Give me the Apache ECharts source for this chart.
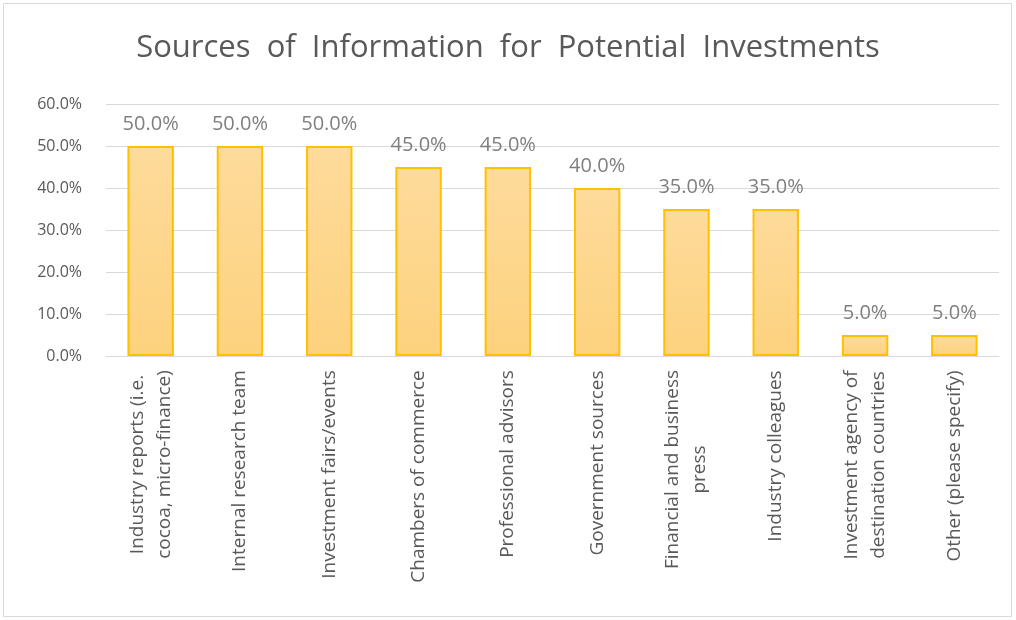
<!DOCTYPE html>
<html><head><meta charset="utf-8">
<script src="https://cdn.jsdelivr.net/npm/echarts@6/dist/echarts.min.js"></script>
<style>html,body{margin:0;padding:0;background:#fff}#c{width:1016px;height:620px}</style>
</head><body><div id="c"></div>
<script>
var categories = [
  "Industry reports (i.e.\ncocoa, micro-finance)",
  "Internal research team",
  "Investment fairs/events",
  "Chambers of commerce",
  "Professional advisors",
  "Government sources",
  "Financial and business\npress",
  "Industry colleagues",
  "Investment agency of\ndestination countries",
  "Other (please specify)"
];
var values = [50, 50, 50, 45, 45, 40, 35, 35, 5, 5];
var yTicks = [0, 10, 20, 30, 40, 50, 60];

var font = "'Open Sans', 'Noto Sans', sans-serif";
var labelSize = 19;
var ctx = document.createElement('canvas').getContext('2d');
ctx.font = labelSize + "px 'Open Sans'";
var rich = {};
categories.forEach(function (c, i) {
  var lines = c.split('\n');
  var w = Math.max.apply(null, lines.map(function (s) { return ctx.measureText(s).width; }));
  rich['r' + i] = { width: Math.ceil(w), align: 'center', fontFamily: font, fontSize: labelSize, color: '#595959', lineHeight: 27 };
});

var chart = echarts.init(document.getElementById('c'));
chart.setOption({
  backgroundColor: '#fff',
  animation: false,
  title: {
    text: 'Sources  of  Information  for  Potential  Investments',
    left: 'center', top: 28,
    textStyle: { fontFamily: font, fontSize: 31, fontWeight: 'normal', color: '#595959' }
  },
  graphic: [{ type: 'rect', shape: { x: 3.5, y: 3.5, width: 1008, height: 613 },
    style: { fill: 'none', stroke: '#d9d9d9', lineWidth: 1 }, silent: true }],
  grid: { left: 106, right: 17, top: 104, bottom: 264 },
  xAxis: {
    type: 'category', data: categories,
    axisLine: { show: true, lineStyle: { color: '#d9d9d9' } },
    axisTick: { show: false },
    axisLabel: {
      rotate: 90, interval: 0, margin: 14,
      fontFamily: font, fontSize: labelSize, color: '#595959', lineHeight: 27,
      formatter: function (v, i) {
        return v.split('\n').map(function (s) { return '{r' + i + '|' + s + '}'; }).join('\n');
      },
      rich: rich
    }
  },
  yAxis: {
    type: 'value', min: yTicks[0], max: yTicks[yTicks.length - 1], interval: 10,
    axisLine: { show: false }, axisTick: { show: false },
    splitLine: { lineStyle: { color: '#d9d9d9', width: 1 } },
    axisLabel: {
      margin: 24, fontFamily: font, fontSize: 16, color: '#595959',
      formatter: function (v) { return v.toFixed(1) + '%'; }
    }
  },
  series: [{
    type: 'bar', data: values, barWidth: '52%',
    itemStyle: {
      color: new echarts.graphic.LinearGradient(0, 0, 0, 1, [
        { offset: 0, color: '#fedb9b' }, { offset: 1, color: '#fdd27e' }
      ]),
      borderColor: '#ffc000', borderWidth: 2
    },
    label: {
      show: true, position: 'top', distance: 12,
      fontFamily: font, fontSize: 20, color: '#7f7f7f',
      formatter: function (p) { return p.value.toFixed(1) + '%'; }
    }
  }]
});
</script></body></html>
